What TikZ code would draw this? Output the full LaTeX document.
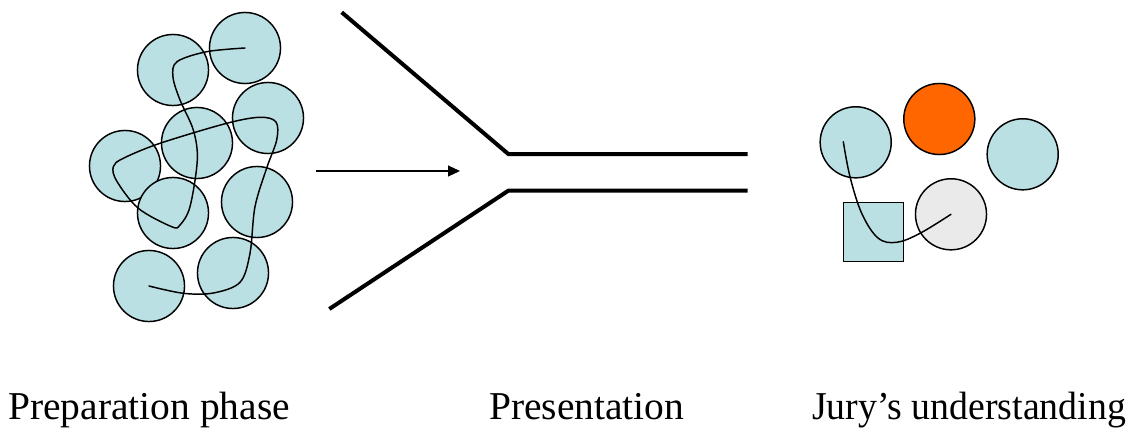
\documentclass[tikz,border=0pt]{standalone}
\usepackage{fontspec}
\setmainfont{Liberation Serif}
\usetikzlibrary{arrows.meta}
\definecolor{beadblue}{HTML}{BBE0E3}
\definecolor{hotorange}{HTML}{FF6600}
\definecolor{palegrey}{HTML}{EAEAEA}
\begin{document}
\begin{tikzpicture}[x=0.75pt,y=-0.75pt,
  bead/.style={circle,draw=black,line width=1.1pt,fill=beadblue,inner sep=0pt,minimum size=53.3pt},
  thread/.style={line width=1.1pt,line cap=round},
  wall/.style={line width=3pt},
  phasetext/.style={anchor=base west,inner sep=0pt,font=\fontsize{29.6}{34}\selectfont}]
\useasboundingbox (0,0) rectangle (1136,428);

% preparation phase: a tangle of ideas
\node[bead] (c1) at (245,48) {};
\node[bead] (c2) at (173,70) {};
\node[bead] (c3) at (268,118) {};
\node[bead] (c4) at (197,143) {};
\node[bead] (c5) at (125,166) {};
\node[bead] (c6) at (173,213) {};
\node[bead] (c7) at (257,202) {};
\node[bead] (c8) at (149,286) {};
\node[bead] (c9) at (233,273) {};
\draw[thread] plot[smooth,tension=0.55] coordinates {
  (c1.center) (206.7,51.7) (177,61.7) (173,77) (180,100) (193.3,130)
  (197.3,160) (190,206.7) (180,225) (171.7,226.7) (138.3,208.3)
  (116.7,181) (113.3,166.7) (123.3,158.3) (160,143.3) (226.7,123.3)
  (260,117.3) (276,122) (276.7,140) (266.7,168) (255,206.7)
  (250,253.3) (240,282.3) (213.3,293) (183.3,293.3) (c8.center)};

% arrow into the funnel
\coordinate (ain) at (316,171);
\coordinate (aout) at (460,171);
\draw[line width=1pt,-{Triangle[length=9pt,width=8.2pt]}] (ain) -- (aout);

% presentation funnel
\coordinate (ftop) at (341.7,12.3);
\coordinate (fbot) at (329.3,309);
\coordinate (nupper) at (508.3,154);
\coordinate (nlower) at (508.3,190.7);
\coordinate (eupper) at (747.7,154);
\coordinate (elower) at (747.7,190.7);
\draw[wall] (ftop) -- (nupper) -- (eupper);
\draw[wall] (fbot) -- (nlower) -- (elower);

% jury's understanding
\node[bead] (ja) at (855.7,142.3) {};
\node[bead,fill=hotorange] (jo) at (939.3,119) {};
\node[bead] (jr) at (1022.7,154.3) {};
\node[bead,fill=palegrey] (jg) at (951,214.3) {};
\node[draw=black,line width=1.1pt,fill=beadblue,inner sep=0pt,
      minimum width=45pt,minimum height=44.3pt] (jsq) at (873.3,232) {};
\coordinate (jstart) at (843.3,141.7);
\draw[thread] plot[smooth,tension=0.6] coordinates {
  (jstart) (850,176.7) (861.7,213.3) (878,238) (896.7,242.3)
  (920,233.3) (jg.center)};

% captions
\node[phasetext] (tprep) at (8,419) {Preparation phase};
\node[phasetext] (tpres) at (489,419) {Presentation};
\node[phasetext,xscale=0.957] (tjury) at (812,419) {Jury’s understanding};
\end{tikzpicture}
\end{document}
